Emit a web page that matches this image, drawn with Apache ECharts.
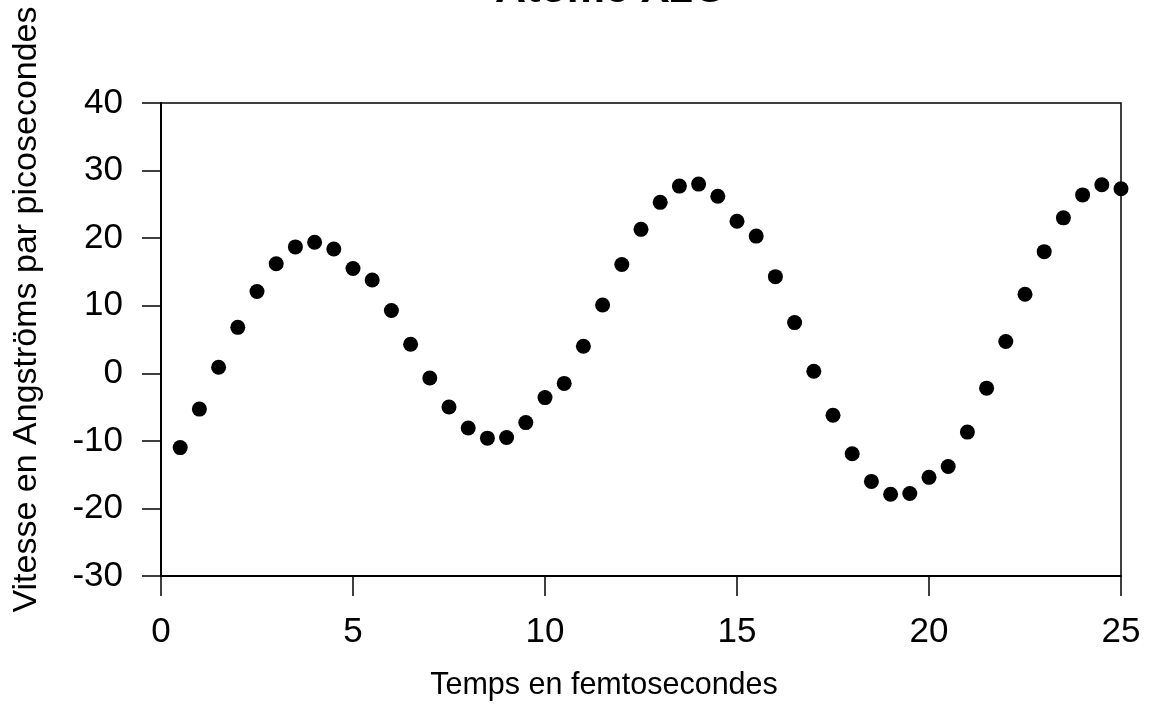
<!DOCTYPE html>
<html>
<head>
<meta charset="utf-8">
<script src="https://cdn.jsdelivr.net/npm/echarts@6/dist/echarts.min.js"></script>
<style>
  html, body { margin: 0; padding: 0; background: #fff; }
  #chart { width: 1155px; height: 723px; }
</style>
</head>
<body>
<div id="chart"></div>
<script>
// Time samples (fs) and measured velocity (Å/ps)
const times = [
  0.5, 1.0, 1.5, 2.0, 2.5, 3.0, 3.5, 4.0, 4.5, 5.0,
  5.5, 6.0, 6.5, 7.0, 7.5, 8.0, 8.5, 9.0, 9.5, 10.0,
  10.5, 11.0, 11.5, 12.0, 12.5, 13.0, 13.5, 14.0, 14.5, 15.0,
  15.5, 16.0, 16.5, 17.0, 17.5, 18.0, 18.5, 19.0, 19.5, 20.0,
  20.5, 21.0, 21.5, 22.0, 22.5, 23.0, 23.5, 24.0, 24.5, 25.0
];
const velocities = [
  -11.0, -5.3, 0.9, 6.8, 12.1, 16.2, 18.7, 19.4, 18.4, 15.5,
  13.8, 9.3, 4.3, -0.7, -5.0, -8.1, -9.6, -9.5, -7.3, -3.6,
  -1.5, 4.0, 10.1, 16.1, 21.3, 25.3, 27.7, 28.0, 26.2, 22.5,
  20.3, 14.3, 7.5, 0.3, -6.2, -11.9, -16.0, -17.9, -17.8, -15.4,
  -13.8, -8.7, -2.2, 4.7, 11.7, 18.0, 23.0, 26.4, 27.9, 27.3
];
const titleText = 'Atome X2O';
const xName = 'Temps en femtosecondes';
const yName = 'Vitesse en Angströms par picosecondes';

const points = times.map((t, i) => [t, velocities[i]]);
const font = 'Liberation Sans, Arial, sans-serif';

const chart = echarts.init(document.getElementById('chart'));
chart.setOption({
  animation: false,
  backgroundColor: '#fff',
  title: {
    text: titleText,
    left: 606,
    textAlign: 'center',
    top: -36,
    textStyle: { fontFamily: font, fontSize: 43, fontWeight: 'bold', color: '#000' }
  },
  grid: { left: 161, right: 34, top: 103, bottom: 147, show: true, borderColor: '#000', borderWidth: 1.5, backgroundColor: 'transparent' },
  xAxis: {
    type: 'value',
    min: 0, max: 25, interval: 5,
    name: xName,
    nameLocation: 'middle',
    nameGap: 94,
    nameTextStyle: { fontFamily: font, fontSize: 30.5, color: '#000', padding: [0, 74, 0, 0] },
    axisLine: { show: true, onZero: false, lineStyle: { color: '#000', width: 2 } },
    axisTick: { show: true, inside: false, length: 20, lineStyle: { color: '#000', width: 1.5 } },
    axisLabel: { margin: 39, fontFamily: font, fontSize: 35, color: '#000' },
    splitLine: { show: false }
  },
  yAxis: {
    type: 'value',
    min: -30, max: 40, interval: 10,
    name: yName,
    nameLocation: 'middle',
    nameRotate: 90,
    nameGap: 117,
    nameTextStyle: { fontFamily: font, fontSize: 34, color: '#000', padding: [0, 0, 0, 60] },
    axisLine: { show: true, onZero: false, lineStyle: { color: '#000', width: 2 } },
    axisTick: { show: true, inside: false, length: 19, lineStyle: { color: '#000', width: 1.5 } },
    axisLabel: { margin: 38, fontFamily: font, fontSize: 35, color: '#000' },
    splitLine: { show: false }
  },
  series: [{
    type: 'scatter',
    data: points,
    symbol: 'circle',
    symbolSize: 15,
    itemStyle: { color: '#000', opacity: 1 },
    clip: false
  }]
});
</script>
</body>
</html>
